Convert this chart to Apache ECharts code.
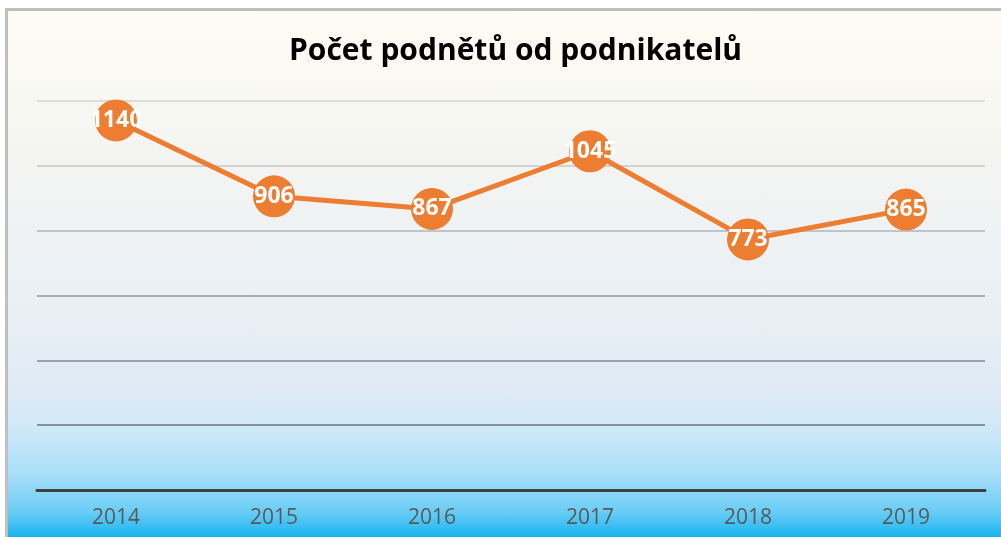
<!DOCTYPE html>
<html>
<head>
<meta charset="utf-8">
<script src="https://cdn.jsdelivr.net/npm/echarts@6/dist/echarts.min.js"></script>
<style>
  html, body { margin: 0; padding: 0; background: #fff; }
  #frame {
    position: absolute; left: 5px; top: 8px; right: 0; bottom: 0;
    border-left: 3px solid #bfbfbf; border-top: 3px solid #bfbfbf;
    background: linear-gradient(to bottom, #fefcf3 0%, #f3f4f2 30%, #eaf0f5 55%, #dfeaf4 72%, #cde8f8 80%, #a9dff9 88%, #6ccdf5 95%, #1ab4f0 100%);
  }
  #main { position: absolute; left: 0; top: 0; width: 1001px; height: 537px; }
</style>
</head>
<body>
<div id="frame"></div>
<div id="main"></div>
<script>
var years = ['2014', '2015', '2016', '2017', '2018', '2019']
var podnety = [1140, 906, 867, 1045, 773, 865]
var gridColors = ['#86939f', '#86939f', '#9aa3ab', '#a8aeb4', '#c0c4c8', '#d2d2d2', '#dcdcdc']

var myChart = echarts.init(document.getElementById('main'))
var option = {
  backgroundColor: 'transparent',
  title: {
    text: 'Počet podnětů od podnikatelů',
    left: 284,
    top: 31,
    textStyle: {
      fontFamily: 'Open Sans',
      fontWeight: 'bold',
      fontSize: 30,
      color: '#000'
    }
  },
  grid: { left: 37, right: 16, top: 101, bottom: 47 },
  xAxis: {
    type: 'category',
    data: years,
    boundaryGap: true,
    axisTick: { show: false },
    axisLine: { lineStyle: { color: '#3f3f3f', width: 3 } },
    axisLabel: {
      margin: 18,
      color: '#595959',
      fontFamily: 'Open Sans',
      fontSize: 21
    }
  },
  yAxis: {
    type: 'value',
    min: 0,
    max: 1200,
    interval: 200,
    axisLabel: { show: false },
    axisLine: { show: false },
    axisTick: { show: false },
    splitLine: { lineStyle: { color: gridColors, width: 2 } }
  },
  series: [
    {
      name: 'Počet podnětů',
      type: 'line',
      data: podnety,
      symbol: 'circle',
      symbolSize: 42,
      itemStyle: { color: '#ed7d31' },
      lineStyle: { color: '#ed7d31', width: 5 },
      label: {
        show: true,
        position: 'inside',
        color: '#fff',
        fontFamily: 'Open Sans',
        fontWeight: 'bold',
        fontSize: 23
      }
    }
  ]
}
myChart.setOption(option)
</script>
</body>
</html>
